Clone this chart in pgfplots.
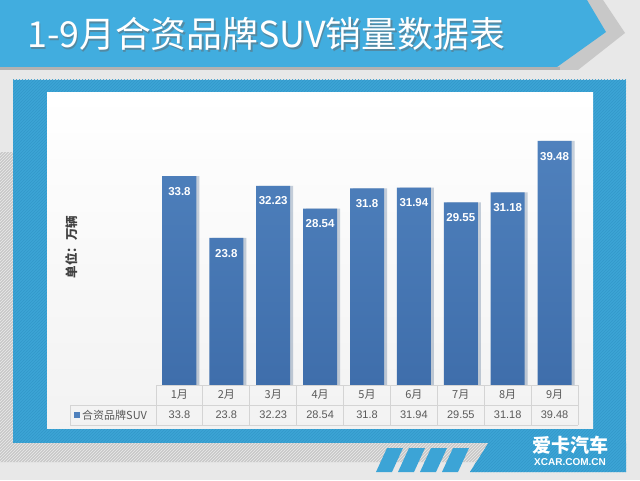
\documentclass[border=0pt]{standalone}
\usepackage{pgfplots}
\usepackage{pgfplotstable}
\pgfplotsset{compat=1.18}
\usepackage{fontspec}
\setmainfont{Liberation Sans}
\newfontfamily\cjk{Noto Sans CJK SC}
\usetikzlibrary{patterns,shadows}
\definecolor{bg}{HTML}{E8E8E8}
\definecolor{banner}{HTML}{41ADDF}
\definecolor{frameblue}{HTML}{3CA4D6}
\definecolor{stripe}{HTML}{3398C9}
\definecolor{bartop}{HTML}{4F81BD}
\definecolor{barbot}{HTML}{3F6EAB}
\definecolor{tgrey}{HTML}{595959}
\definecolor{tline}{HTML}{D4D4D4}
\definecolor{sgrey}{HTML}{C8C8C8}
\pgfplotstableread{
m v
1 33.8
2 23.8
3 32.23
4 28.54
5 31.8
6 31.94
7 29.55
8 31.18
9 39.48
}\datatable
\begin{document}
\begin{tikzpicture}[x=1pt,y=1pt]
\useasboundingbox (0,0) rectangle (640,480);
\fill[bg] (0,0) rectangle (640,480);
% left grey strip
\fill[sgrey] (0,18) rectangle (13,328);
\fill[pattern=north east lines, pattern color=black!8] (0,18) rectangle (13,328);
% banner
\fill[sgrey] (0,480) -- (603,480) -- (625,447) -- (578,410) -- (0,410) -- cycle;
\fill[black!30] (0,413) rectangle (560,410);
\fill[banner] (0,480) -- (587,480) -- (606,448) -- (557,413) -- (0,413) -- cycle;
\node[anchor=base west, inner sep=0, text=black!60, opacity=0.5, font=\cjk\fontsize{35.8}{40}\selectfont] at (28.5,430.5) {1-9月合资品牌SUV销量数据表};
\node[anchor=base west, inner sep=0, text=white, font=\cjk\fontsize{35.8}{40}\selectfont] at (27,432) {1-9月合资品牌SUV销量数据表};
% frame
\fill[frameblue] (13,37) rectangle (626,400);
\fill[frameblue] (488,37) -- (626,37) -- (626,8) -- (470,8) -- cycle;
\fill[pattern=north east lines, pattern color=stripe] (13,37) rectangle (626,400);
\fill[pattern=north east lines, pattern color=stripe] (488,37) -- (626,37) -- (626,8) -- (470,8) -- cycle;
% grey band
\fill[sgrey] (0,37) -- (488,37) -- (476,18) -- (0,18) -- cycle;
\fill[pattern=north east lines, pattern color=black!8] (0,37) -- (488,37) -- (476,18) -- (0,18) -- cycle;
\foreach \s in {376,398,420,442} {
  \fill[frameblue] (\s,8) -- (\s+16,8) -- (\s+27,32) -- (\s+11,32) -- cycle;
}
% white area
\shade[top color=white, bottom color=black!5] (47,52) rectangle (593,387);
% axis
\begin{axis}[at={(156pt,95pt)}, anchor=south west, scale only axis,
  width=422pt, height=272pt, xmin=0.5, xmax=9.5, ymin=0, ymax=44,
  axis line style={draw=none}, ticks=none, ybar, bar width=34pt, clip=false,
  /pgf/number format/assume math mode=true,
  nodes near coords,
  nodes near coords style={anchor=north, inner sep=0pt, yshift=-11pt, text=white,
    font=\fontsize{11.5}{12}\bfseries\selectfont}]
\addplot[draw=none, top color=bartop, bottom color=barbot,
  drop shadow={shadow xshift=3pt, shadow yshift=0pt, opacity=0.2}] table[x=m,y=v]{\datatable};
\end{axis}
% table
\draw[tline, line width=0.8pt] (156,95) -- (578,95);
\draw[tline, line width=0.8pt] (70,75) -- (578,75);
\draw[tline, line width=0.8pt] (70,55) -- (578,55);
\draw[tline, line width=0.8pt] (70,75) -- (70,55);
\foreach \k in {0,...,9} { \draw[tline, line width=0.8pt] ({156+46.889*\k},95) -- ({156+46.889*\k},55); }
\foreach \m/\v [count=\i] in {1/33.8,2/23.8,3/32.23,4/28.54,5/31.8,6/31.94,7/29.55,8/31.18,9/39.48} {
  \node[font=\cjk\fontsize{11}{12}\selectfont, text=tgrey, inner sep=0] at ({156+46.889*(\i-0.5)},85) {\m 月};
  \node[font=\fontsize{11}{12}\selectfont, text=tgrey, inner sep=0] at ({156+46.889*(\i-0.5)},65) {\v};
}
\fill[bartop] (74,62) rectangle (80,68);
\node[anchor=west, inner sep=0, font=\cjk\fontsize{11}{12}\selectfont, text=tgrey] at (82,65) {合资品牌SUV};
% y label
\node[rotate=90, font=\cjk\fontsize{12.5}{13}\bfseries\selectfont, text=black!75] at (72,233) {单位：万辆};
% logo
\node[font=\cjk\fontsize{19}{20}\bfseries\selectfont, text=white, inner sep=0] at (570,35) {爱卡汽车};
\node[font=\fontsize{10}{11}\bfseries\selectfont, text=white, inner sep=0] at (570,18) {XCAR.COM.CN};
\end{tikzpicture}
\end{document}
